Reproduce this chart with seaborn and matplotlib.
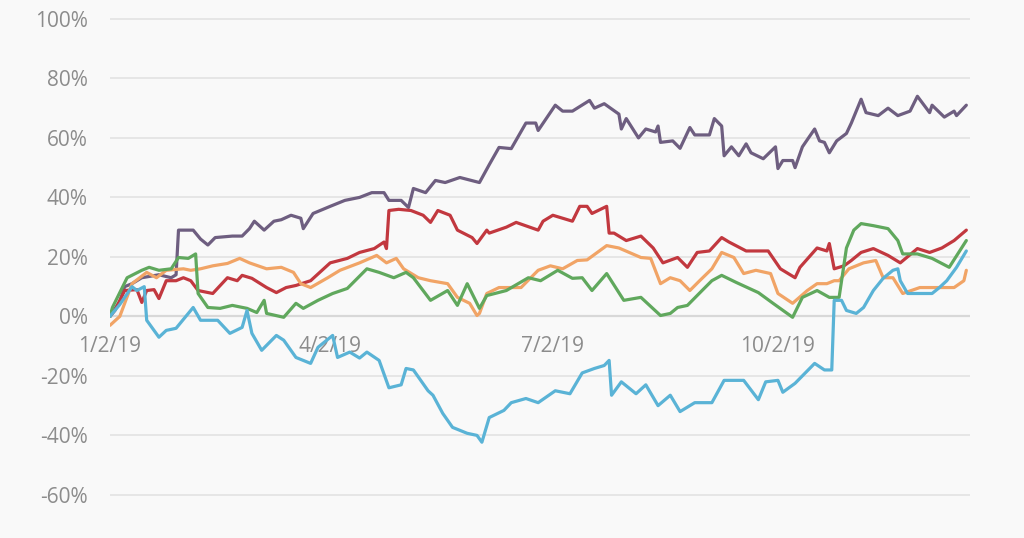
import matplotlib
matplotlib.use("Agg")
import matplotlib.pyplot as plt
import matplotlib.ticker as mticker
import seaborn as sns
import pandas as pd
import numpy as np

START = pd.Timestamp("2019-01-02")

# days since 1/2/19, cumulative return (%)
purple_days = [0, 4, 6, 9, 13, 20, 25, 27, 28, 33, 34, 37, 40, 43, 50, 54, 57, 59, 63, 67, 70, 74, 78, 79, 83, 90, 96, 102, 107, 112, 114, 119, 122, 124, 129, 133, 137, 143, 151, 155, 159, 164, 170, 174, 175, 182, 185, 189, 196, 198, 202, 208, 209, 211, 216, 219, 223, 224, 225, 230, 233, 237, 239, 245, 247, 250, 251, 254, 257, 260, 262, 267, 272, 273, 275, 279, 280, 283, 288, 290, 292, 294, 297, 301, 303, 307, 309, 314, 318, 322, 327, 330, 335, 336, 341, 345, 346, 350]
purple_vals = [0, 5, 10, 11, 13, 14, 13, 14, 29, 29, 29, 26, 24, 26.5, 27, 27, 29.5, 32, 29, 32, 32.5, 34, 33, 29.5, 34.6, 37, 39, 40, 41.6, 41.6, 39, 39, 36.6, 43, 41.6, 45.7, 45, 46.7, 45, 51, 56.8, 56.4, 65, 65, 62.5, 71, 69, 69, 72.6, 70, 71.5, 68, 63, 66.5, 60, 63, 62, 64, 58.5, 59, 56.5, 63.5, 61, 61, 66.5, 64, 54, 57, 54, 58, 55, 53, 57, 49.7, 52.4, 52.4, 50, 57, 63, 59, 58.5, 55, 59, 61.5, 65, 73, 68.5, 67.5, 70, 67.5, 69, 74, 68.5, 71, 67, 69, 67.5, 71]

red_days = [0, 2, 6, 11, 13, 15, 18, 20, 23, 27, 30, 33, 36, 42, 48, 52, 54, 58, 64, 68, 72, 76, 82, 90, 97, 102, 108, 112, 113, 114, 118, 123, 128, 131, 134, 139, 142, 148, 150, 154, 155, 162, 166, 175, 177, 181, 189, 192, 195, 197, 203, 204, 206, 211, 217, 222, 226, 232, 236, 240, 245, 250, 253, 260, 269, 274, 280, 282, 289, 293, 294, 296, 300, 303, 307, 312, 318, 323, 330, 335, 340, 345, 350]
red_vals = [0, 2, 8.7, 9, 4.7, 8.7, 9, 6, 12, 12, 13, 12, 8.7, 7.7, 13, 12, 13.8, 12.8, 9.7, 8, 9.7, 10.4, 12, 18, 19.5, 21.5, 22.8, 25, 22.8, 35.6, 36, 35.6, 34, 31.6, 35.6, 34, 29, 26.5, 24.5, 29, 28, 30, 31.6, 29, 32, 34, 32, 37, 37, 34.6, 37, 28, 28, 25.5, 27, 23, 18, 19.8, 16.5, 21.5, 22, 26.5, 25, 22, 22, 16, 13, 16.5, 23, 22, 24.5, 16, 17, 18.8, 21.5, 22.8, 20.5, 18, 22.8, 21.5, 23, 25.5, 29]

orange_days = [0, 4, 9, 15, 19, 23, 30, 33, 37, 42, 48, 53, 57, 64, 70, 75, 78, 82, 89, 94, 102, 109, 113, 117, 120, 126, 131, 138, 142, 147, 150, 151, 154, 159, 168, 175, 180, 185, 191, 195, 203, 208, 217, 221, 225, 229, 233, 237, 241, 246, 250, 255, 259, 264, 270, 273, 279, 285, 289, 293, 296, 298, 302, 308, 313, 316, 320, 324, 331, 338, 345, 349, 350]
orange_vals = [-3, 0, 11, 14.8, 13, 15.5, 16, 15.5, 16, 17, 17.8, 19.5, 18, 16, 16.5, 14.8, 11, 9.7, 13, 15.5, 18, 20.5, 18, 19.5, 16, 13, 12, 11, 6.4, 4.4, 0.3, 1, 7.7, 9.7, 9.7, 15.5, 17, 16, 18.8, 19, 23.8, 23, 19.8, 19.5, 11, 13, 12, 8.7, 12, 16, 21.5, 19.8, 14.4, 15.5, 14.4, 7.7, 4.4, 8.7, 11, 11, 12, 12, 16, 18, 18.8, 13, 13, 7.7, 9.7, 9.7, 9.7, 12, 15.5]

green_days = [0, 1, 7, 13, 16, 20, 25, 28, 32, 35, 36, 40, 45, 50, 56, 60, 63, 64, 71, 76, 79, 85, 91, 97, 105, 110, 116, 121, 124, 131, 138, 142, 146, 151, 154, 162, 171, 176, 183, 189, 193, 197, 203, 210, 217, 225, 229, 232, 236, 242, 246, 250, 256, 265, 271, 279, 283, 289, 294, 298, 301, 304, 307, 312, 318, 322, 324, 330, 336, 343, 350]
green_vals = [0, 3, 13, 15.5, 16.5, 15.5, 16, 19.8, 19.5, 21, 7.7, 3, 2.7, 3.7, 2.7, 1.3, 5.4, 1, -0.3, 4.4, 2.7, 5.4, 7.7, 9.4, 16, 14.8, 13, 14.8, 13, 5.4, 8.7, 3.7, 11, 2.7, 7, 8.7, 13, 12, 15.5, 12.8, 13, 8.7, 14.4, 5.4, 6.4, 0.3, 1, 3, 3.7, 8.7, 12, 13.8, 11.4, 8, 4.4, -0.3, 6.4, 8.7, 6.4, 6.4, 23, 29, 31.2, 30.5, 29.5, 25.5, 21, 21, 19.5, 16.5, 25.5]

blue_days = [0, 4, 9, 11, 14, 15, 20, 23, 27, 34, 37, 44, 49, 54, 56, 58, 62, 68, 71, 76, 82, 85, 91, 93, 98, 102, 105, 110, 114, 119, 121, 124, 130, 132, 136, 140, 146, 150, 152, 155, 161, 164, 170, 175, 182, 188, 193, 198, 202, 204, 205, 209, 215, 219, 224, 229, 233, 239, 246, 251, 259, 265, 268, 273, 275, 280, 288, 292, 295, 296, 299, 301, 305, 308, 312, 316, 320, 322, 323, 326, 331, 336, 339, 342, 346, 350]
blue_vals = [0, 4, 10, 8.7, 10, -1.3, -7, -4.7, -4, 3, -1.3, -1.3, -5.7, -3.7, 2, -5.7, -11.4, -6.4, -8, -13.8, -15.8, -10.4, -6.4, -13.8, -12, -14, -12, -14.8, -24, -23, -17.5, -18, -25, -26.5, -32.6, -37.3, -39.3, -40, -42.3, -34, -31.6, -29, -27.6, -29, -25, -26, -19, -17.5, -16.5, -14.8, -26.5, -22, -26, -23, -30, -26.5, -32, -29, -29, -21.5, -21.5, -28, -22, -21.5, -25.5, -22.5, -15.8, -18, -18, 5.4, 5.4, 2, 1, 3, 8.7, 12.8, 15.5, 16, 12, 7.7, 7.7, 7.7, 9.7, 12, 16.5, 22]

series_names = ["purple", "red", "orange", "green", "blue"]
series_days = [purple_days, red_days, orange_days, green_days, blue_days]
series_vals = [purple_vals, red_vals, orange_vals, green_vals, blue_vals]
colors = {"purple": "#6e5e80", "red": "#c2383f", "orange": "#f1a466",
          "green": "#60a85d", "blue": "#5ab3d6"}

tick_dates = ["2019-01-02", "2019-04-02", "2019-07-02", "2019-10-02"]
tick_labels = ["1/2/19", "4/2/19", "7/2/19", "10/2/19"]
y_ticks = [-60, -40, -20, 0, 20, 40, 60, 80, 100]

frames = []
for name, d, v in zip(series_names, series_days, series_vals):
    frames.append(pd.DataFrame({"date": START + pd.to_timedelta(d, unit="D"),
                                "value": v, "series": name}))
df = pd.concat(frames, ignore_index=True)

sns.set_theme(style="white")
plt.rcParams["font.family"] = ["Open Sans", "DejaVu Sans"]

BG = "#f9f9f9"
fig = plt.figure(figsize=(10.24, 5.38), dpi=100, facecolor=BG)
ax = fig.add_axes([110 / 1024, 1 - 505 / 538, 860 / 1024, 495 / 538])
ax.set_facecolor(BG)

ax.set_ylim(-63.4, 103)
ax.set_xlim(START, START + pd.Timedelta(days=351.5))

ax.set_yticks(y_ticks)
ax.yaxis.set_major_formatter(mticker.FuncFormatter(lambda v, p: f"{int(v)}%"))
ax.yaxis.grid(True, color="#e6e6e6", linewidth=1.4)
ax.xaxis.grid(False)
ax.axhline(0, color="#d8d8d8", linewidth=1.6, zorder=1)

sns.lineplot(data=df, x="date", y="value", hue="series", hue_order=series_names,
             palette=colors, estimator=None, linewidth=2.3, legend=False, ax=ax,
             zorder=3)

ax.set_xticks(pd.to_datetime(tick_dates))
ax.set_xticklabels(tick_labels)
for s in ax.spines.values():
    s.set_visible(False)
ax.spines["bottom"].set_position(("data", 0))
ax.tick_params(axis="x", length=0, pad=14, labelsize=15, labelcolor="#8c8c8c")
ax.tick_params(axis="y", length=0, pad=16, labelsize=15, labelcolor="#8c8c8c")
ax.set_xlabel("")
ax.set_ylabel("")

fig.savefig("out.png", dpi=100, facecolor=BG)
